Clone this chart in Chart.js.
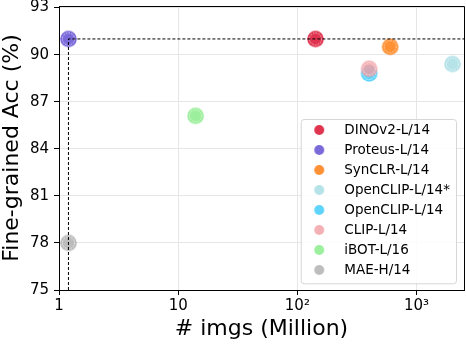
<!DOCTYPE html>
<html>
<head>
<meta charset="utf-8">
<script src="https://cdn.jsdelivr.net/npm/chart.js@4"></script>
<style>
html,body{margin:0;padding:0;background:#fff;}
#wrap{width:466px;height:344px;}
</style>
</head>
<body>
<div id="wrap"><canvas id="c" width="466" height="344"></canvas></div>
<script>
// ---- data ----
const models = ['DINOv2-L/14', 'Proteus-L/14', 'SynCLR-L/14', 'OpenCLIP-L/14*', 'OpenCLIP-L/14', 'CLIP-L/14', 'iBOT-L/16', 'MAE-H/14'];
const imgsMillion = [142, 1.2, 600, 2000, 400, 400, 14, 1.2];
const fineGrainedAcc = [91.0, 91.0, 90.5, 89.4, 88.8, 89.1, 86.1, 78.0];
const modelColors = ['rgba(216,0,35,0.8)', 'rgba(89,68,208,0.8)', 'rgba(255,116,0,0.8)', 'rgba(164,220,226,0.8)',
                     'rgba(55,201,250,0.8)', 'rgba(241,158,163,0.8)', 'rgba(131,235,131,0.8)', 'rgba(173,173,173,0.8)'];
const yTicks = [75, 78, 81, 84, 87, 90, 93];
const xTicks = [1, 10, 100, 1000];
const xTickLabels = ['1', '10', '10²', '10³'];
const xMin = 1, xMax = 2500, yMin = 75, yMax = 93.1;
const refIndex = 1; // Proteus-L/14 reference point for dashed guide lines

const FONT = "'DejaVu Sans', sans-serif";

function makeMarker(color, r, ring) {
  const s = Math.ceil(2 * r + 4);
  const c = document.createElement('canvas');
  c.width = s; c.height = s;
  const g = c.getContext('2d');
  g.fillStyle = color;
  g.beginPath(); g.arc(s / 2, s / 2, r, 0, Math.PI * 2); g.fill();
  if (ring) {
    g.strokeStyle = 'rgba(255,255,255,0.85)';
    g.lineWidth = 0.8;
    g.setLineDash([1.6, 1.2]);
    g.beginPath(); g.arc(s / 2, s / 2, r - 2.2, 0, Math.PI * 2); g.stroke();
  }
  return c;
}
const pointImgs = modelColors.map(c => makeMarker(c, 8.3, true));
const legendImgs = modelColors.map(c => makeMarker(c, 5, false));

const datasets = [{
  label: 'guide',
  data: [{x: imgsMillion[refIndex], y: yMin}, {x: imgsMillion[refIndex], y: fineGrainedAcc[refIndex]}, {x: xMax, y: fineGrainedAcc[refIndex]}],
  showLine: true,
  borderColor: '#000',
  borderWidth: 1,
  borderDash: [3, 2],
  pointRadius: 0,
  order: -100
}];
models.forEach((m, i) => {
  datasets.push({
    label: m,
    data: [{x: imgsMillion[i], y: fineGrainedAcc[i]}],
    pointStyle: pointImgs[i],
    backgroundColor: modelColors[i],
    borderColor: modelColors[i],
    pointRadius: 8,
    order: -i
  });
});

const LEG = {left: 294.5, top: 116.75, frame: {x: 300.7, y: 119, w: 155.3, h: 164.3}};

function alignPx(p) { return Math.round(p - 0.5) + 0.5; }

const framePlugin = {
  id: 'framePlugin',
  afterInit(chart) {
    const lg = chart.legend;
    if (!lg) return;
    lg._layers = function () {
      return [{
        z: 5,
        draw() {
          const ctx = chart.ctx;
          const f = LEG.frame;
          ctx.save();
          ctx.beginPath();
          if (ctx.roundRect) ctx.roundRect(f.x + 0.5, f.y + 0.5, f.w, f.h, 3); else ctx.rect(f.x + 0.5, f.y + 0.5, f.w, f.h);
          ctx.fillStyle = 'rgba(255,255,255,0.85)';
          ctx.fill();
          ctx.strokeStyle = '#d6d6d6';
          ctx.lineWidth = 1;
          ctx.stroke();
          ctx.restore();
          lg.left = LEG.left; lg.top = LEG.top; lg.right = 466; lg.bottom = 344;
          lg.draw(chart.chartArea);
        }
      }];
    };
  },
  afterDraw(chart) {
    const {ctx, chartArea: a} = chart;
    ctx.save();
    ctx.strokeStyle = '#000';
    ctx.lineWidth = 1;
    ctx.beginPath();
    const t = alignPx(a.top), r = alignPx(a.right);
    ctx.moveTo(alignPx(a.left), t); ctx.lineTo(r, t); ctx.lineTo(r, alignPx(a.bottom));
    ctx.stroke();
    ctx.restore();
  }
};

new Chart(document.getElementById('c'), {
  type: 'scatter',
  data: {datasets},
  plugins: [framePlugin],
  options: {
    responsive: false,
    devicePixelRatio: 1,
    animation: false,
    events: [],
    layout: {autoPadding: false, padding: {top: 6, right: 2, left: 0, bottom: 0}},
    plugins: {
      tooltip: {enabled: false},
      legend: {
        position: 'chartArea',
        align: 'start',
        labels: {
          usePointStyle: true,
          pointStyleWidth: 36.5,
          boxHeight: 10,
          padding: 6.5,
          color: '#000',
          font: {family: FONT, size: 13.5},
          generateLabels(chart) {
            const items = Chart.defaults.plugins.legend.labels.generateLabels(chart)
              .filter(it => it.datasetIndex > 0)
              .sort((a, b) => a.datasetIndex - b.datasetIndex);
            items.forEach(it => { it.pointStyle = legendImgs[it.datasetIndex - 1]; it.fontColor = '#000'; });
            return items;
          }
        }
      }
    },
    scales: {
      x: {
        type: 'logarithmic',
        position: 'bottom',
        min: xMin,
        max: xMax,
        afterBuildTicks(s) { s.ticks = xTicks.map(v => ({value: v})); },
        afterFit(s) { s.height = 54; s.paddingLeft = 0; s.paddingRight = 0; },
        ticks: {
          autoSkip: false, maxRotation: 0, padding: 2, color: '#000',
          font: {family: FONT, size: 15},
          callback(v) { const k = xTicks.indexOf(v); return k >= 0 ? xTickLabels[k] : ''; }
        },
        grid: {color: '#e6e6e6', tickColor: '#000', tickLength: 5, lineWidth: 1},
        border: {color: '#000', width: 1},
        title: {display: true, text: '# imgs (Million)', color: '#000', font: {family: FONT, size: 22}, padding: {top: 0, bottom: 1.5}}
      },
      y: {
        type: 'linear',
        position: 'left',
        min: yMin,
        max: yMax,
        afterBuildTicks(s) { s.ticks = yTicks.map(v => ({value: v})); },
        afterFit(s) { s.width = 59; s.paddingTop = 0; s.paddingBottom = 0; },
        ticks: {padding: 5, color: '#000', font: {family: FONT, size: 15}},
        grid: {color: '#e6e6e6', tickColor: '#000', tickLength: 5, lineWidth: 1},
        border: {color: '#000', width: 1},
        title: {display: true, text: 'Fine-grained Acc (%)', color: '#000', font: {family: FONT, size: 22, lineHeight: 1.1}, padding: {top: 0, bottom: 0}}
      }
    }
  }
});
</script>
</body>
</html>
